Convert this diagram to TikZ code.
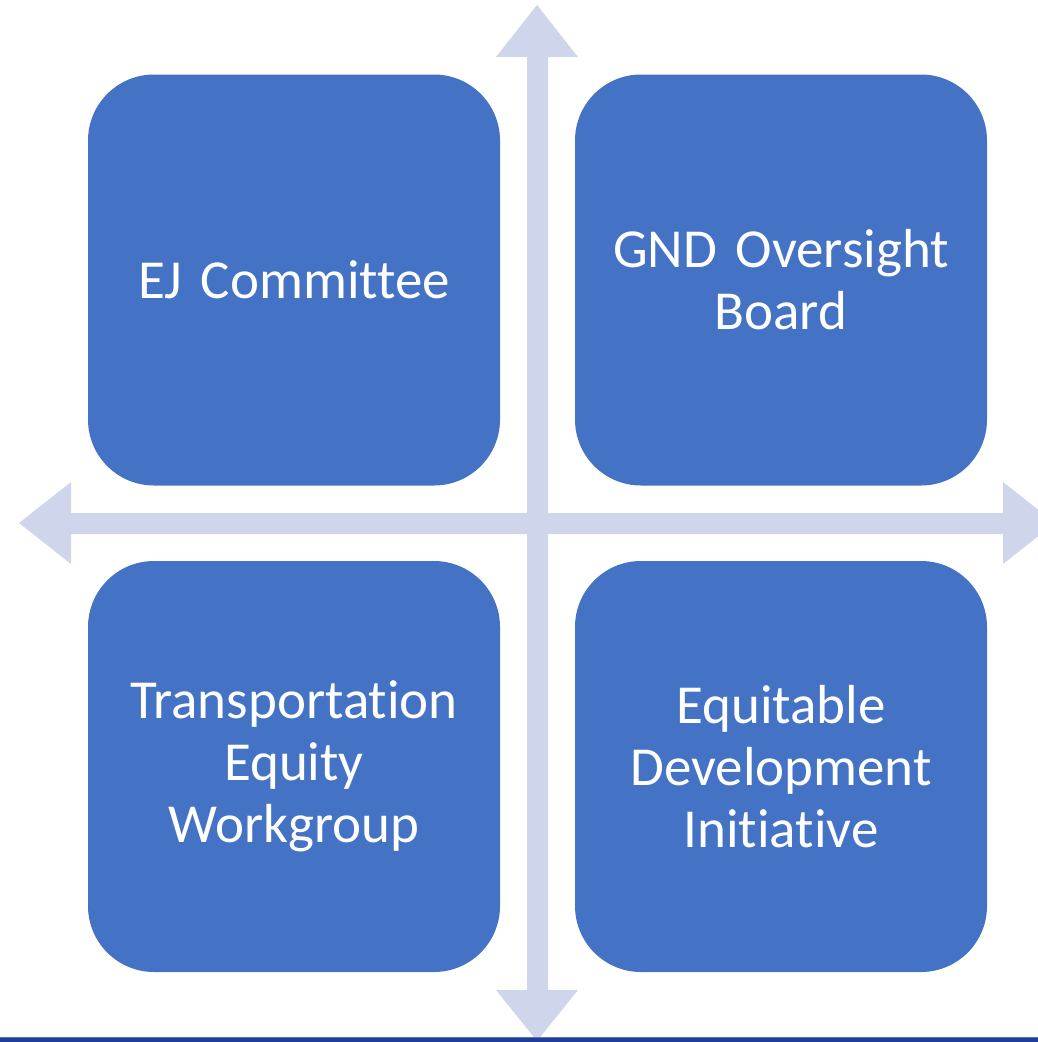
\documentclass[tikz,border=0pt]{standalone}
\usepackage{fontspec}
\setmainfont{Carlito}[Ligatures={NoCommon}]
\definecolor{boxblue}{HTML}{4472C4}
\definecolor{arrowgray}{HTML}{CFD5EA}
\definecolor{barblue}{HTML}{1F3E9A}
\definecolor{barlight}{HTML}{5F73AA}
\begin{document}
\begin{tikzpicture}[x=1pt,y=-1pt,
  quad/.style={fill=boxblue, draw=none, rounded corners=66pt,
    minimum width=412pt, minimum height=411pt, inner sep=0pt,
    text=white, align=center, text width=400pt,
    font=\fontsize{55}{62}\selectfont}]
\useasboundingbox (0,0) rectangle (1038,1042);
\begin{scope}
\clip (0,0) rectangle (1038,1042);
% double arrows
\fill[arrowgray] (537,5) -- (578,57) -- (548,57) -- (548,990) -- (578,990)
  -- (537,1041) -- (496,990) -- (527,990) -- (527,57) -- (496,57) -- cycle;
\fill[arrowgray] (19,523) -- (71,482) -- (71,513) -- (1003,513) -- (1003,482)
  -- (1055,523) -- (1003,564) -- (1003,534) -- (71,534) -- (71,564) -- cycle;
% bottom bar
\fill[barblue] (0,1037) rectangle (1038,1042);
\fill[barlight] (0,1036.5) rectangle (1038,1037.6);
\end{scope}
\node[quad] (ej) at (294,280) {EJ Committee};
\node[quad] (gnd) at (781,280) {GND Oversight\\Board};
\node[quad] (te) at (294,766.5) {Transportation\\Equity\\Workgroup};
\node[quad] (ed) at (781,766.5) {Equitable\\Development\\Initiative};
\end{tikzpicture}
\end{document}
